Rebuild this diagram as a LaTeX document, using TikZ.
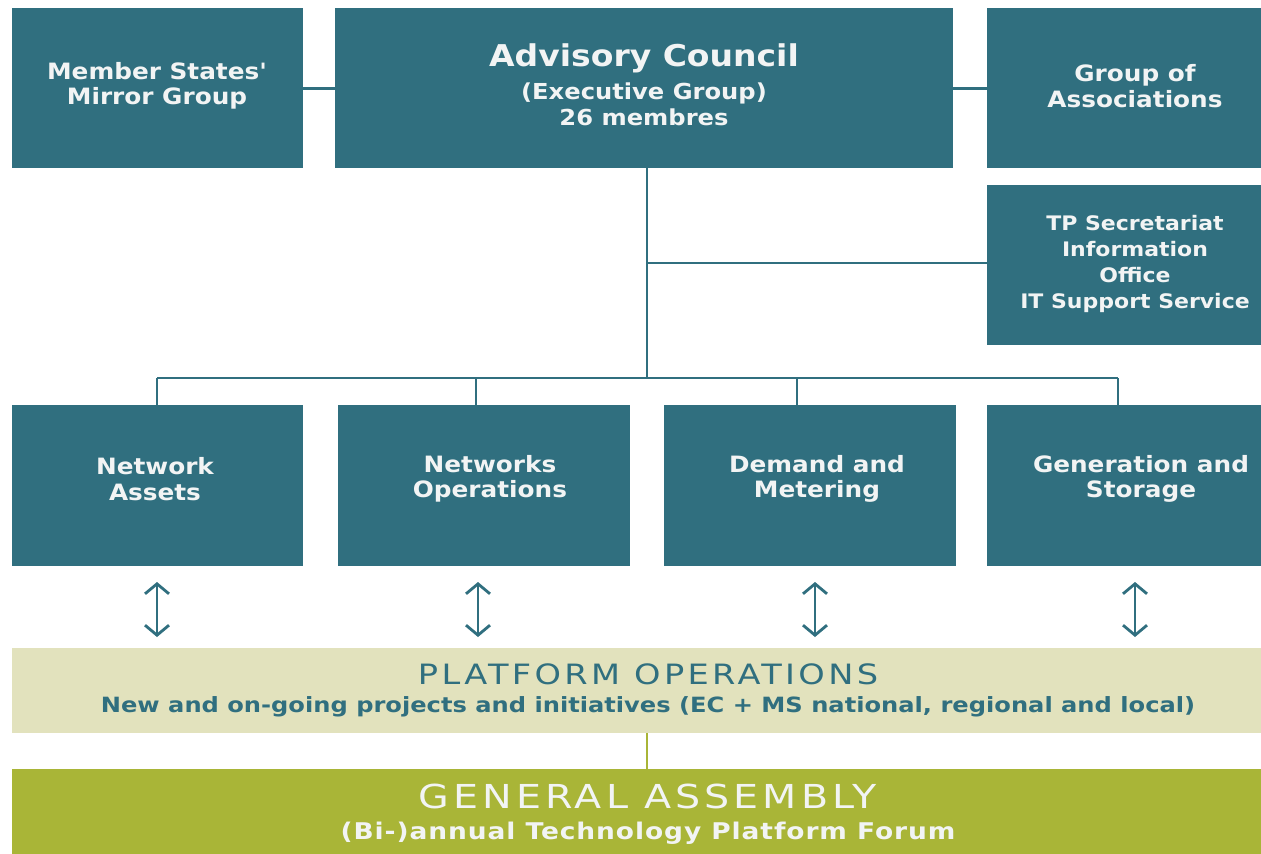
\documentclass[tikz,border=0pt]{standalone}
\usepackage{fontspec}
\setmainfont{DejaVu Sans}
\newfontfamily\boxfont[FakeStretch=1.1]{DejaVu Sans}
\newfontfamily\titlefont[FakeStretch=1.2,LetterSpace=12]{DejaVu Sans}
\newfontfamily\subfont[FakeStretch=1.15]{DejaVu Sans}
\newfontfamily\subwfont[FakeStretch=1.15,LetterSpace=4]{DejaVu Sans}
\usetikzlibrary{arrows.meta}
\definecolor{teal1}{HTML}{306F7F}
\definecolor{beige1}{HTML}{E2E2BD}
\definecolor{olive1}{HTML}{A9B537}
\definecolor{txtw}{HTML}{F2F4F4}
\begin{document}
\begin{tikzpicture}[x=1pt,y=-1pt,
  box/.style={fill=teal1,draw=none,inner sep=0,anchor=north west},
  btxt/.style={text=txtw,font=\boxfont\bfseries\fontsize{22.5}{25.5}\selectfont,align=center,inner sep=0},
  conn/.style={draw=teal1,line width=2.8pt},
  dbl/.style={draw=teal1,line width=2.8pt,{Straight Barb[length=10pt,width=24pt,line width=2.8pt]}-{Straight Barb[length=10pt,width=24pt,line width=2.8pt]}}]
\useasboundingbox (0,0) rectangle (1261,854);
\fill[white] (0,0) rectangle (1261,854);
% top row
\node[box,minimum width=291pt,minimum height=160pt] (ms) at (12,8) {};
\node[box,minimum width=618pt,minimum height=160pt] (ac) at (335,8) {};
\node[box,minimum width=274pt,minimum height=160pt] (ga) at (987,8) {};
\node[box,minimum width=274pt,minimum height=160pt] (tp) at (987,185) {};
% working groups
\node[box,minimum width=291pt,minimum height=161pt] (na) at (12,405) {};
\node[box,minimum width=292pt,minimum height=161pt] (no) at (338,405) {};
\node[box,minimum width=292pt,minimum height=161pt] (dm) at (664,405) {};
\node[box,minimum width=274pt,minimum height=161pt] (gs) at (987,405) {};
% bands
\node[box,fill=beige1,minimum width=1249pt,minimum height=85pt] (po) at (12,648) {};
\node[box,fill=olive1,minimum width=1249pt,minimum height=85pt] (gen) at (12,769) {};
% texts
\node[btxt] (tms) at (157,86) {Member States'\\Mirror Group};
\node[btxt,font=\boxfont\bfseries\fontsize{30}{32}\selectfont] (tac1) at (644,58) {Advisory Council};
\node[btxt,font=\boxfont\bfseries\fontsize{22}{26}\selectfont] (tac2) at (644,104) {(Executive Group)\\26 membres};
\node[btxt] (tga) at (1135,86) {Group of\\Associations};
\node[btxt,font=\boxfont\bfseries\fontsize{20}{26.3}\selectfont] (ttp) at (1135,264) {TP Secretariat\\Information\\Office\\IT Support Service};
\node[btxt] (tna) at (155,479) {Network\\Assets};
\node[btxt] (tno) at (490,479) {Networks\\Operations};
\node[btxt] (tdm) at (817,479) {Demand and\\Metering};
\node[btxt] (tgs) at (1141,479) {Generation and\\Storage};
\node[inner sep=0,text=teal1,font=\titlefont\fontsize{28}{30}\selectfont] (tpo1) at (648,674) {PLATFORM OPERATIONS};
\node[inner sep=0,text=teal1,font=\subfont\bfseries\fontsize{21}{24}\selectfont] (tpo2) at (648,707) {New and on-going projects and initiatives (EC + MS national, regional and local)};
\node[inner sep=0,text=txtw,font=\titlefont\fontsize{33}{35}\selectfont] (tgen1) at (648,796) {GENERAL ASSEMBLY};
\node[inner sep=0,text=txtw,font=\subwfont\bfseries\fontsize{23}{26}\selectfont] (tgen2) at (648,833) {(Bi-)annual Technology Platform Forum};
% connectors
\coordinate (hub) at (647,378);
\coordinate (tpj) at (647,263);
\coordinate (b1) at (157,378);
\coordinate (b2) at (476,378);
\coordinate (b3) at (797,378);
\coordinate (b4) at (1118,378);
\draw[conn] (ms.east) -- (ms.east -| ac.west);
\draw[conn] (ac.east) -- (ac.east -| ga.west);
\draw[conn] (ac.south -| hub) -- (hub);
\draw[conn] (tpj) -- (tpj -| tp.west);
\draw[conn] (b1) -- (b4);
\draw[conn] (b1) -- (b1 |- na.north);
\draw[conn] (b2) -- (b2 |- no.north);
\draw[conn] (b3) -- (b3 |- dm.north);
\draw[conn] (b4) -- (b4 |- gs.north);
\coordinate (a1) at (157,582); \coordinate (a2) at (478,582);
\coordinate (a3) at (815,582); \coordinate (a4) at (1135,582);
\draw[dbl] (a1) -- (a1 |- 0,637);
\draw[dbl] (a2) -- (a2 |- 0,637);
\draw[dbl] (a3) -- (a3 |- 0,637);
\draw[dbl] (a4) -- (a4 |- 0,637);
\draw[draw=olive1,line width=2.8pt] (po.south -| hub) -- (gen.north -| hub);
\end{tikzpicture}
\end{document}
